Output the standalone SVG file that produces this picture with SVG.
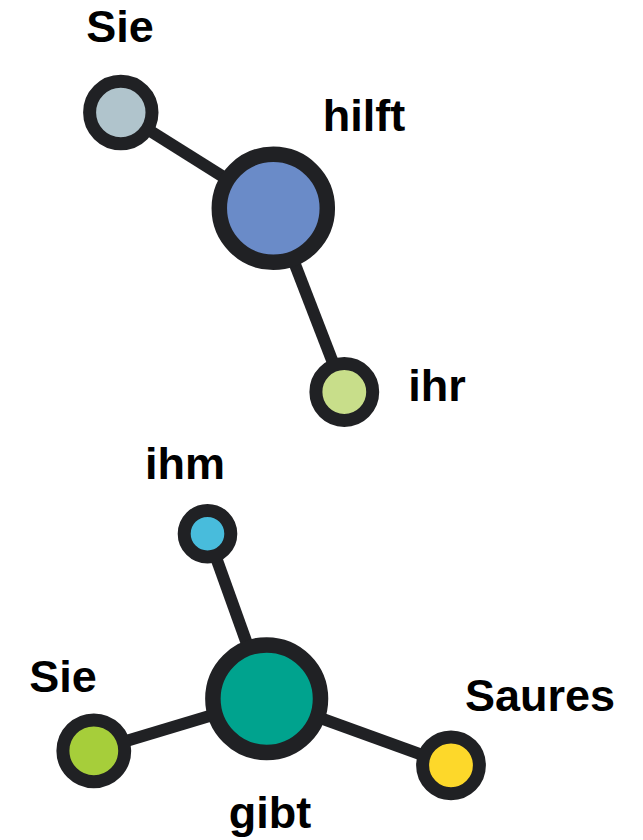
<svg xmlns="http://www.w3.org/2000/svg" width="643" height="840" viewBox="0 0 643 840">
<style>
.edge{stroke:#202124;stroke-width:12;stroke-linecap:butt;fill:none}
.n{stroke:#202124;stroke-width:13}
.big{stroke-width:15.5}
.lbl{font-family:"Liberation Sans",Arial,sans-serif;font-weight:bold;font-size:45px;fill:#000;text-anchor:middle}
</style>
<rect width="643" height="840" fill="#fff"/>
<g id="edges">
<line class="edge" x1="120.8" y1="112.5" x2="273.3" y2="208.3"/>
<line class="edge" x1="273.3" y1="208.3" x2="344.3" y2="392"/>
<line class="edge" x1="207.5" y1="533.7" x2="266.7" y2="698.7"/>
<line class="edge" x1="93.8" y1="750.8" x2="266.7" y2="698.7"/>
<line class="edge" x1="266.7" y1="698.7" x2="451" y2="765.3"/>
</g>
<g id="node-sie1"><circle class="n" cx="120.8" cy="112.5" r="31.2" fill="#b0c4cc"/><text class="lbl" x="120" y="42">Sie</text></g>
<g id="node-hilft"><circle class="n big" cx="273.3" cy="208.3" r="54" fill="#6a8bc8"/><text class="lbl" x="364" y="131">hilft</text></g>
<g id="node-ihr"><circle class="n" cx="344.3" cy="392" r="28.4" fill="#c8de8a"/><text class="lbl" x="437" y="401">ihr</text></g>
<g id="node-ihm"><circle class="n" cx="207.5" cy="533.7" r="23.3" fill="#48bcdc"/><text class="lbl" x="185" y="479">ihm</text></g>
<g id="node-gibt"><circle class="n big" cx="266.7" cy="698.7" r="53.8" fill="#00a38e"/><text class="lbl" x="270" y="828">gibt</text></g>
<g id="node-sie2"><circle class="n" cx="93.8" cy="750.8" r="30.9" fill="#a6ce3a"/><text class="lbl" x="63" y="692">Sie</text></g>
<g id="node-saures"><circle class="n" cx="451" cy="765.3" r="28.4" fill="#fdd82a"/><text class="lbl" x="540" y="711">Saures</text></g>
</svg>
